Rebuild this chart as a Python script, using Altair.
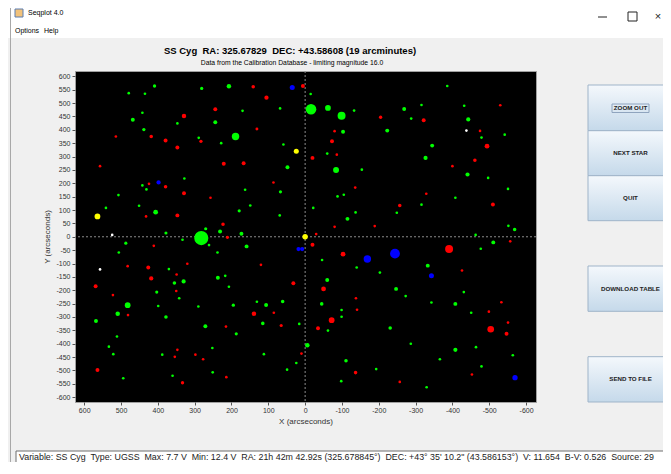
import altair as alt
import pandas as pd

# ---------------- star data (arcseconds from SS Cyg, estimated magnitude) ----------------
green_x = [409, 479, 435, 281, 207, -15, -16, -62, 442, 170, 68, 468, 244, 347, 438, 189, 289, 228, 59, -60,
           48, -84, 328, 442, 431, 163, 67, 507, -88, 541, 451, 149, -22, 406, 179, 69, 270, 231, 378, 173,
           282, 333, 487, 261, 159, 506, 238, -46, 370, 217, 237, 355, 330, -60, 207, 403, 342, 482, 399, 290,
           195, 131, 106, 61, -45, 509, 378, 568, 271, 115, 16, -62, 187, 511, -6, 533, 252, 521, 388, 112,
           24, 49, 251, 360, 494, -386, -133, -269, -316, -432, -99, -288, -443, -479, -542, -103, -223, -345, -327, -154,
           -441, -497, -551, -105, -408, -316, -249, -137, -115, -552, -569, -463, -511, -477, -140, -203, -333, -247, -273, -431,
           -99, -99, -343, -408, -451, -231, -287, -408, -464, -564, -111, -366, -193, -479, -98, -330]
green_y = [564, 537, 535, 555, 563, 534, 477, 482, 464, 471, 480, 438, 428, 424, 401, 375, 370, 350, 345, 311,
           260, 250, 218, 192, 177, 176, 168, 156, 151, 108, 116, 117, 108, 92, 97, 80, 30, 20, 14, 11,
           -5, -11, -24, -31, -36, -59, -59, -87, -121, -146, -153, -173, -167, -162, -187, -207, -230, -256, -259, -261,
           -256, -243, -255, -242, -251, -288, -300, -315, -335, -324, -326, -351, -363, -373, -406, -411, -416, -439, -441, -439,
           -472, -497, -507, -520, -529, 564, 472, 478, 493, 490, 453, 442, 439, 371, 382, 393, 397, 341, 295, 251,
           233, 220, 179, 157, 146, 120, 90, 91, 67, 41, 27, 7, -21, -45, -115, -134, -108, -195, -222, -207,
           -274, -299, -246, -251, -284, -341, -400, -423, -413, -443, -464, -458, -495, -485, -540, -563]
green_mag = [15.0, 15.8, 15.8, 15.0, 14.0, 15.8, 10.6, 13.0, 15.8, 15.8, 15.8, 14.5, 14.5, 15.8, 15.0, 12.0, 15.8, 15.8, 15.8, 15.8,
             14.5, 12.9, 15.8, 15.8, 15.8, 15.8, 15.2, 15.8, 15.8, 15.8, 15.8, 15.8, 15.8, 13.8, 15.2, 15.8, 15.2, 14.5, 15.2, 14.5,
             9.0, 15.8, 15.2, 15.8, 14.5, 15.8, 15.8, 15.8, 15.8, 15.8, 14.5, 14.8, 14.3, 14.5, 15.8, 15.2, 15.8, 13.0, 15.8, 15.8,
             15.0, 15.8, 14.5, 14.8, 14.8, 14.0, 14.8, 14.5, 14.5, 14.8, 15.8, 15.8, 15.2, 15.8, 14.0, 15.8, 15.8, 15.8, 15.8, 15.8,
             15.8, 15.8, 15.8, 15.8, 15.8, 15.8, 15.8, 14.5, 15.8, 15.8, 11.8, 15.8, 14.3, 15.8, 15.8, 14.5, 14.5, 14.5, 14.3, 15.8,
             14.3, 15.8, 15.8, 15.8, 15.8, 15.8, 15.8, 15.8, 14.5, 15.8, 14.8, 15.8, 14.5, 15.8, 15.8, 15.8, 14.5, 14.5, 15.8, 15.8,
             15.8, 15.8, 15.8, 14.5, 15.8, 14.8, 15.8, 14.3, 15.8, 15.8, 14.8, 15.8, 15.8, 15.8, 15.8, 15.8]

red_x = [141, 6, 105, 244, 329, 131, 514, 418, 283, 379, 347, -20, -80, -73, -86, 221, 167, 557, 86, 424,
         379, 329, 257, 347, 432, 223, -80, -30, 211, 411, -20, 482, 320, 120, 426, 349, 569, 418, 32, -50,
         350, 522, 481, 139, 85, -72, 215, 65, -35, 347, 10, 298, 354, 277, 564, 214, 333, -530, -205, -322,
         -475, -494, -461, -400, -136, -329, -257, -510, -189, -557, -103, -391, -426, -138, -141, -533, -499, -551, -504, -547,
         -137, -453, -257]
red_y = [561, 564, 520, 477, 452, 403, 375, 375, 357, 360, 334, 295, 395, 357, 307, 273, 275, 264, 203, 198,
         187, 163, 146, 80, 76, 47, 37, 10, -2, -34, -30, -110, -101, -105, -115, -141, -185, -156, -174, -195,
         -203, -218, -293, -288, -284, -312, -336, -332, -342, -423, -437, -441, -449, -458, -498, -525, -546, 492, 447, 436,
         396, 339, 286, 264, 184, 161, 117, 121, 40, -17, -65, -46, -126, -230, -273, -245, -280, -321, -346, -363,
         -508, -515, -543]
red_mag = [14.8, 14.5, 14.2, 14.5, 14.0, 15.5, 15.8, 14.8, 15.0, 14.5, 14.5, 14.5, 15.8, 14.5, 15.8, 14.5, 14.5, 15.8, 15.8, 15.8,
           14.8, 14.5, 15.8, 14.5, 15.8, 14.8, 15.8, 15.8, 15.2, 15.8, 14.5, 15.8, 15.8, 15.8, 14.5, 15.8, 14.5, 14.2, 14.5, 13.8,
           15.8, 15.8, 15.8, 14.0, 15.8, 13.0, 15.8, 15.2, 14.5, 15.8, 15.8, 15.8, 15.8, 15.8, 14.5, 15.8, 15.0, 15.8, 15.0, 14.5,
           15.8, 13.8, 14.8, 15.8, 15.8, 15.8, 14.8, 14.5, 15.8, 15.8, 13.8, 11.8, 15.8, 15.8, 15.8, 15.8, 15.8, 15.8, 12.5, 14.5,
           14.8, 15.8, 15.8]

blue_x = [35, 398, 18, 8, -169, -244, -343, -570]
blue_y = [558, 203, -46, -46, -83, -63, -146, -527]
blue_mag = [13.6, 14.2, 14.3, 14.3, 12.0, 11.0, 13.6, 13.4]

yellow_x = [24, 564, 0]
yellow_y = [320, 76, 0]
yellow_mag = [13.6, 13.0, 13.3]

white_x = [524, 557, -438]
white_y = [7, -122, 397]
white_mag = [15.8, 15.8, 15.8]

kinds = ["green", "red", "blue", "yellow", "white"]
kind_colors = ["#00FF00", "#FF0000", "#0000FF", "#FFFF00", "#FFFFFF"]

x_ticks = [-600, -500, -400, -300, -200, -100, 0, 100, 200, 300, 400, 500, 600]
y_ticks = [-600, -550, -500, -450, -400, -350, -300, -250, -200, -150, -100, -50, 0,
           50, 100, 150, 200, 250, 300, 350, 400, 450, 500, 550, 600]

title_text = "SS Cyg\u00a0 RA: 325.67829\u00a0 DEC: +43.58608 (19 arcminutes)"
subtitle_text = "Data from the Calibration Database - limiting magnitude 16.0"
info_text = ("Variable: SS Cyg\u00a0 Type: UGSS\u00a0 Max: 7.7 V\u00a0 Min: 12.4 V\u00a0 "
             "RA: 21h 42m 42.92s (325.678845\u00b0)\u00a0 DEC: +43\u00b0 35' 10.2\" (43.586153\u00b0)\u00a0 "
             "V: 11.654\u00a0 B-V: 0.526\u00a0 Source: 29")
buttons = ["ZOOM OUT", "NEXT STAR", "QUIT", "DOWNLOAD TABLE", "SEND TO FILE"]

rows = []
for kind, xs, ys, ms in [("green", green_x, green_y, green_mag), ("red", red_x, red_y, red_mag),
                         ("blue", blue_x, blue_y, blue_mag), ("yellow", yellow_x, yellow_y, yellow_mag),
                         ("white", white_x, white_y, white_mag)]:
    for a, b, m in zip(xs, ys, ms):
        rows.append({"x": a, "y": b, "mag": m, "kind": kind})
stars = pd.DataFrame(rows)

FONT = "Liberation Sans"
xscale = alt.Scale(domain=[-627, 625], reverse=True, nice=False, zero=False)
yscale = alt.Scale(domain=[-618, 620], nice=False, zero=False)
xaxis = alt.Axis(values=x_ticks, labelExpr="'' + datum.value", title="X (arcseconds)", grid=False, domain=False,
                 tickSize=3, tickColor="#555555", labelFont=FONT, labelFontSize=7, labelColor="#333333",
                 labelPadding=1, labelOverlap=False, labelFlush=False, titleFont=FONT, titleFontSize=8,
                 titleFontWeight="normal", titleColor="#333333", titlePadding=4)
yaxis = alt.Axis(values=y_ticks, labelExpr="'' + datum.value", title="Y (arcseconds)", grid=False, domain=False,
                 tickSize=3, tickColor="#555555", labelFont=FONT, labelFontSize=7, labelColor="#333333",
                 labelPadding=2, labelOverlap=False, labelFlush=False, titleFont=FONT, titleFontSize=8,
                 titleFontWeight="normal", titleColor="#333333", titlePadding=4)

vline = alt.Chart(alt.Data(values=[{"v": 0}])).mark_rule(color="#8c8c8c", strokeDash=[2, 2], strokeWidth=1).encode(
    x=alt.X("v:Q", scale=xscale, axis=xaxis))
hline = alt.Chart(alt.Data(values=[{"v": 0}])).mark_rule(color="#8c8c8c", strokeDash=[2, 2], strokeWidth=1).encode(
    y=alt.Y("v:Q", scale=yscale, axis=yaxis))

points = alt.Chart(stars).mark_circle(opacity=1, strokeWidth=0).encode(
    x=alt.X("x:Q", scale=xscale, axis=xaxis),
    y=alt.Y("y:Q", scale=yscale, axis=yaxis),
    size=alt.Size("mag:Q", scale=alt.Scale(domain=[9, 10.6, 12, 13, 14, 15, 16],
                                           range=[200, 113, 55, 33, 20, 11, 6]), legend=None),
    color=alt.Color("kind:N", scale=alt.Scale(domain=kinds, range=kind_colors), legend=None),
)


def txt(s, x, y, size, weight="normal", align="left", color="#000000", font=FONT):
    return alt.Chart(alt.Data(values=[{"t": s}])).mark_text(
        align=align, baseline="middle", fontSize=size, fontWeight=weight, color=color, font=font
    ).encode(x=alt.value(x), y=alt.value(y), text="t:N")


def box(x, y, x2, y2, fill, stroke="transparent", sw=1):
    return alt.Chart(alt.Data(values=[{}])).mark_rect(fill=fill, stroke=stroke, strokeWidth=sw).encode(
        x=alt.value(x), x2=alt.value(x2), y=alt.value(y), y2=alt.value(y2))


grad = alt.Gradient(gradient="linear", x1=0, x2=0, y1=0, y2=1,
                    stops=[alt.GradientStop(color="#F4F8FC", offset=0),
                           alt.GradientStop(color="#C5D9EA", offset=1)])

chrome = [
    box(-67, -63, 600, -33, "#FFFFFF"),
    alt.Chart(alt.Data(values=[{}])).mark_rule(color="#A8A8A8").encode(
        x=alt.value(-64.5), y=alt.value(-63), y2=alt.value(410)),
    box(-60, -62, -52, -54, "#F2C27A", "#5B7DB1"),
    txt("Seqplot 4.0", -47, -58, 7),
    txt("Options", -60, -40, 7),
    txt("Help", -31, -40, 7),
    alt.Chart(alt.Data(values=[{}])).mark_rule(color="#222222").encode(
        x=alt.value(523), x2=alt.value(532), y=alt.value(-54)),
    box(553, -59, 562, -50, "transparent", "#222222"),
    txt("\u00d7", 583, -54, 11, align="center", color="#222222"),
    txt(title_text, 215, -20, 9.5, weight="bold", align="center"),
    txt(subtitle_text, 217, -8, 6.8, align="center"),
    box(-59, 380, 593, 420, "#FFFFFF", "#6E6E6E"),
    txt(info_text, -56, 385.5, 8.85, color="#222222"),
]
btn_rows = [(14, 59.7), (59.7, 104.7), (104.7, 149.7), (195, 240.3), (285.7, 331)]
for label, (t, b) in zip(buttons, btn_rows):
    chrome.append(box(513, t, 605, b, grad, "#9FB4C9"))
    chrome.append(txt(label, 555.5, (t + b) / 2, 6.2, weight="bold", align="center", color="#222222"))
chrome.append(box(537, 33, 574, 41.5, "transparent", "#8FA4BE"))

chart = alt.layer(vline, hline, points, *chrome).properties(
    width=461, height=331,
    autosize=alt.AutoSizeParams(type="none"),
    padding={"left": 67, "top": 63, "right": 127, "bottom": 60},
    background="#F0F0F0",
).configure_view(fill="#000000", stroke="#A0A0A0", strokeWidth=1)

chart.save("out.html", embed_options={"renderer": "svg", "actions": False})
